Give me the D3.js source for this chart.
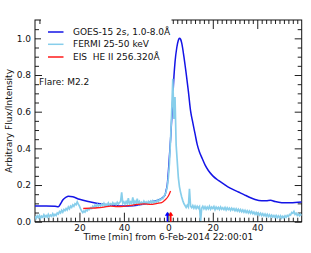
<!DOCTYPE html>
<html><head><meta charset="utf-8">
<script src="https://cdn.jsdelivr.net/npm/d3@7"></script>
<style>
html,body{margin:0;padding:0;background:#fff;}
svg{display:block;font-family:"DejaVu Sans",sans-serif;}
text{white-space:pre;}
</style></head>
<body><svg id="c" width="311" height="253"></svg>
<script>
// ---- data ----
const goesT = [-60,-55,-51,-49.5,-48.5,-47.5,-46,-45,-43,-40,-35,-30,-25,-21,-18,-14,-11,-8,-5,-3,-1.5,-1,-0.5,0,0.5,1,1.7,2.5,3,3.8,4.5,5,5.5,6,7,7.5,8,9,10,11,12,13,14,15,16.5,18,20,22.5,25,27,29,31.5,34,36,39,42,44,46,48,51,55,60];
const goesV = [0.085,0.085,0.084,0.082,0.098,0.118,0.134,0.139,0.136,0.122,0.108,0.097,0.090,0.085,0.086,0.090,0.096,0.108,0.116,0.128,0.145,0.171,0.20,0.27,0.36,0.45,0.60,0.79,0.87,0.95,0.99,1.0,0.995,0.975,0.90,0.856,0.81,0.712,0.604,0.54,0.48,0.42,0.38,0.351,0.31,0.279,0.25,0.225,0.205,0.189,0.176,0.162,0.148,0.136,0.121,0.114,0.114,0.117,0.110,0.104,0.103,0.107];

const fermiStart = -60, fermiStep = 0.5; // sampling cadence (min)
const fermiV = [
0.030,0.018,0.032,0.022,0.035,0.020,0.030,0.024,0.038,0.026,0.034,0.025,0.040,0.028,0.036,0.030,0.044,0.032,0.040,0.034,0.048,
0.042,0.055,0.048,0.062,0.052,0.066,0.060,0.072,0.064,0.080,0.070,0.085,0.078,0.092,0.084,0.098,0.092,0.108,
0.096,0.085,0.070,0.058,0.050,0.058,0.052,0.064,0.060,0.070,0.066,0.076,
0.072,0.084,0.078,0.090,0.082,0.094,0.084,0.092,0.086,0.096,0.088,0.100,0.086,0.095,0.090,0.102,0.090,0.098,0.092,0.104,0.094,0.100,0.092,0.106,0.096,0.104,
0.110,0.160,0.100,0.108,
0.096,0.110,0.098,0.128,0.096,0.108,0.100,0.132,0.098,0.112,0.100,0.125,0.098,0.110,0.096,0.106,0.098,0.112,0.100,0.108,0.098,0.110,0.100,0.112,0.102,0.114,0.104,0.112,0.106,0.118,0.110,
0.122,0.118,0.128,0.126,0.138,0.148,0.165,0.19,0.24,0.32,0.45,0.60,0.78,0.56,0.68,0.42,0.33,0.24,0.19,0.16,0.135,0.115,0.098,0.088,
0.078,0.090,0.080,0.180,0.084,0.076,0.088,0.074,0.086,0.072,0.084,0.074,0.082,0.004,0.074,
0.084,0.070,0.082,0.068,0.080,0.070,0.084,0.068,0.080,0.072,0.083,0.066,0.080,0.070,0.078,0.066,0.080,0.068,0.076,0.066,0.078,0.064,0.076,0.066,0.074,0.062,0.074,0.064,0.072,0.060,
0.070,0.058,0.068,0.056,0.066,0.054,0.064,0.052,0.062,0.050,0.060,0.048,0.058,0.046,0.056,0.044,0.052,0.040,0.050,0.038,
0.048,0.036,0.046,0.034,0.044,0.032,0.042,0.030,0.040,0.028,0.038,0.026,0.036,0.026,0.034,0.024,0.034,0.022,0.032,0.022,
0.032,0.020,0.030,0.022,0.032,0.024,0.034,0.028,0.040,0.036,0.050,0.046,0.056,0.040,0.046,0.034,0.042,0.032,0.040,0.034];

const eisT = [-38.3,-35,-32,-29,-26,-23,-20,-17,-14,-11,-8,-5,-3,-1.5,0,1];
const eisV = [0.072,0.074,0.076,0.080,0.085,0.083,0.084,0.089,0.094,0.097,0.094,0.100,0.104,0.118,0.140,0.168];

const arrowTimes = [-0.45, 1.1];
const arrowColors = ["blue","red"];

const xMajorTicks = [-40,-20,0,20,40];
const yMajorTicks = [0,0.2,0.4,0.6,0.8,1.0];
const seriesNames = ["GOES-15 2s, 1.0-8.0Å","FERMI 25-50 keV","EIS  HE II 256.320Å"];
const seriesColors = ["#1414e6","#87ceeb","#ff1a1a"];
const flareLabel = "Flare: M2.2";
const xTitle = "Time [min] from 6-Feb-2014 22:00:01";
const yTitle = "Arbitrary Flux/Intensity";

// ---- layout ----
const L = 35, R = 301.7, T = 20, B = 221.7;
const svg = d3.select("#c");
const x = d3.scaleLinear().domain([-60,60]).range([L,R]);
const y = d3.scaleLinear().domain([0,1.1]).range([B,T]);

const xMinor = d3.range(-58,60,2).filter(v=>v%20!==0);
const yMinor = d3.range(0.05,1.1,0.05).filter(v=>Math.abs(v*5-Math.round(v*5))>1e-6);

const tickCol = "#222";
function styleAxis(g){ g.select(".domain").remove(); g.selectAll("line").attr("stroke",tickCol); g.selectAll("text").attr("fill","#111").style("font-size","9px").style("font-family","DejaVu Sans"); }

// bottom
svg.append("g").attr("transform",`translate(0,${B})`).call(d3.axisBottom(x).tickValues(xMinor).tickSize(-4).tickFormat("")).call(styleAxis);
svg.append("g").attr("transform",`translate(0,${B})`).call(d3.axisBottom(x).tickValues(xMajorTicks).tickSize(-9).tickPadding(3).tickFormat(d=>((d%60)+60)%60)).call(styleAxis);
// top
svg.append("g").attr("transform",`translate(0,${T})`).call(d3.axisTop(x).tickValues(xMinor).tickSize(-4).tickFormat("")).call(styleAxis);
svg.append("g").attr("transform",`translate(0,${T})`).call(d3.axisTop(x).tickValues(xMajorTicks).tickSize(-9).tickFormat("")).call(styleAxis);
// left
svg.append("g").attr("transform",`translate(${L},0)`).call(d3.axisLeft(y).tickValues(yMinor).tickSize(-4).tickFormat("")).call(styleAxis);
svg.append("g").attr("transform",`translate(${L},0)`).call(d3.axisLeft(y).tickValues(yMajorTicks).tickSize(-7).tickPadding(4).tickFormat(d3.format(".1f"))).call(styleAxis);
// right
svg.append("g").attr("transform",`translate(${R},0)`).call(d3.axisRight(y).tickValues(yMinor).tickSize(-4).tickFormat("")).call(styleAxis);
svg.append("g").attr("transform",`translate(${R},0)`).call(d3.axisRight(y).tickValues(yMajorTicks).tickSize(-7).tickFormat("")).call(styleAxis);

// frame
svg.append("rect").attr("x",L).attr("y",T).attr("width",R-L).attr("height",B-T).attr("fill","none").attr("stroke","#111").attr("stroke-width",1);

// clip
svg.append("clipPath").attr("id","clip").append("rect").attr("x",L).attr("y",T).attr("width",R-L).attr("height",B-T);
const plot = svg.append("g").attr("clip-path","url(#clip)");

const goesData = goesT.map((t,i)=>[t,goesV[i]]);
const fermiData = fermiV.map((v,i)=>[fermiStart+i*fermiStep,v]);
const eisData = eisT.map((t,i)=>[t,eisV[i]]);

plot.append("path").datum(goesData).attr("fill","none").attr("stroke",seriesColors[0]).attr("stroke-width",1.5)
  .attr("d",d3.line().x(d=>x(d[0])).y(d=>y(d[1])).curve(d3.curveMonotoneX));
plot.append("path").datum(fermiData).attr("fill","none").attr("stroke",seriesColors[1]).attr("stroke-width",1.7)
  .attr("d",d3.line().x(d=>x(d[0])).y(d=>y(d[1])));
plot.append("path").datum(eisData).attr("fill","none").attr("stroke",seriesColors[2]).attr("stroke-width",1.3)
  .attr("d",d3.line().x(d=>x(d[0])).y(d=>y(d[1])).curve(d3.curveMonotoneX));

// arrows
arrowTimes.forEach((t,i)=>{
  const ax = x(t), c = arrowColors[i];
  svg.append("line").attr("x1",ax).attr("x2",ax).attr("y1",B).attr("y2",B-8).attr("stroke",c).attr("stroke-width",1.5);
  svg.append("path").attr("d",`M${ax-2.5},${B-6}L${ax},${B-10}L${ax+2.5},${B-6}Z`).attr("fill",c);
});

// legend
svg.append("rect").attr("x",41).attr("y",T-1).attr("width",130.5).attr("height",45).attr("fill","#fff");
const legY = [32,44.3,57];
seriesNames.forEach((n,i)=>{
  svg.append("line").attr("x1",48).attr("x2",63.5).attr("y1",legY[i]).attr("y2",legY[i]).attr("stroke",seriesColors[i]).attr("stroke-width",1.5);
  svg.append("text").attr("x",73).attr("y",legY[i]).attr("dy","0.35em").attr("xml:space","preserve").style("font-size","9px").attr("fill","#111").text(n);
});

svg.append("text").attr("x",39).attr("y",81.5).attr("dy","0.35em").style("font-size","9px").attr("fill","#111").text(flareLabel);

// titles
svg.append("text").attr("x",(L+R)/2).attr("y",237).attr("dy","0.35em").attr("text-anchor","middle").style("font-size","9px").attr("fill","#111").text(xTitle);
svg.append("text").attr("transform",`translate(9,${(T+B)/2}) rotate(-90)`).attr("dy","0.35em").attr("text-anchor","middle").style("font-size","9px").attr("fill","#111").text(yTitle);
</script></body></html>
